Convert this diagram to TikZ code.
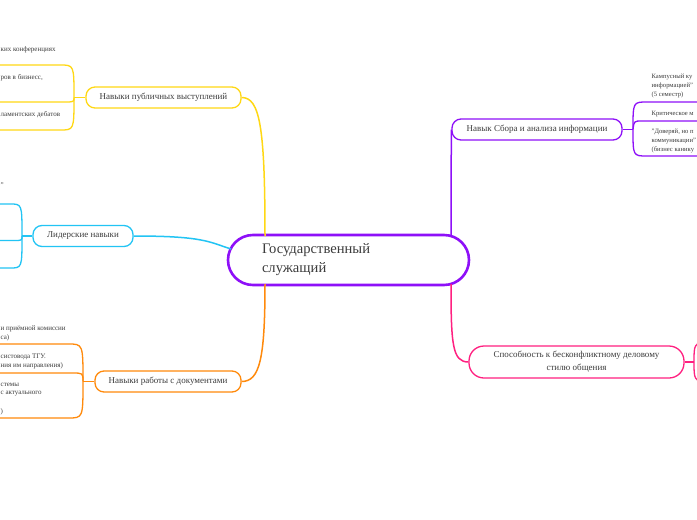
\documentclass[tikz,border=0pt]{standalone}
\usepackage{fontspec}
\setmainfont{Liberation Serif}
\usepackage{tikz}
\usetikzlibrary{positioning}
\usepackage{xcolor}
\definecolor{pubcol}{HTML}{FFD814}
\definecolor{leadcol}{HTML}{22C4F4}
\definecolor{gscol}{HTML}{8E10F8}
\definecolor{doccol}{HTML}{FF8A0C}
\definecolor{konfcol}{HTML}{FF2080}
\definecolor{txt}{HTML}{3C3C3C}

\begin{document}
\begin{tikzpicture}[x=1pt,y=-1pt,line width=1.3pt,
  topic/.style={draw,fill=white,rounded corners=9pt,minimum height=21pt,inner sep=2pt,font=\fontsize{9}{13}\selectfont,text=txt},
  sub/.style={anchor=west,inner sep=0pt,font=\fontsize{7}{8}\selectfont,text=txt},
  subr/.style={sub,font=\fontsize{6.6}{8}\selectfont}]
\clip (0,0) rectangle (697,520);
\fill[white] (0,0) rectangle (697,520);

\node[draw=gscol,line width=2.6pt,fill=white,rounded corners=25pt,minimum width=241pt,minimum height=50pt,text width=173pt,inner xsep=34pt,align=left,text=txt,font=\fontsize{14.6}{19}\selectfont] (gs) at (348.5,260) {Государственный\\служащий};
\coordinate (gsY) at (265,236);
\coordinate (gsC) at (231,249);
\coordinate (gsO) at (265,284);
\coordinate (gsP) at (451,236);
\coordinate (gsK) at (451,284);

\node[topic,draw=pubcol,minimum width=155pt] (pub) at (163.5,97.5) {Навыки публичных выступлений};
\node[topic,draw=leadcol,minimum width=100pt] (lead) at (83,236) {Лидерские навыки};
\node[topic,draw=doccol,minimum width=146pt] (docs) at (168,381.5) {Навыки работы с документами};
\node[topic,draw=gscol,minimum width=170pt] (sbor) at (537,129.5) {Навык Сбора и анализа информации};
\node[topic,draw=konfcol,minimum width=215pt,minimum height=32pt,rounded corners=15pt,align=center] (konf) at (576.5,362) {Способность к бесконфликтному деловому\\стилю общения};

\draw[pubcol,line width=1.5pt] (pub.east) .. controls +(18,0) and +(0,-110) .. (gsY);
\draw[leadcol,line width=1.5pt] (lead.east) .. controls +(70,0) and +(-22,-7) .. (gsC);
\draw[doccol,line width=1.5pt] (docs.east) .. controls +(18,0) and +(0,75) .. (gsO);
\draw[gscol,line width=1.5pt] (gsP) .. controls +(0,-60) and +(0,20) .. (sbor.west);
\draw[konfcol,line width=1.5pt] (gsK) .. controls +(0,60) and +(-16,0) .. (konf.west);

\coordinate (jPub) at (74,97.5);
\draw[pubcol] (pub.west) -- (jPub);
\draw[pubcol] (jPub) .. controls (74,65) .. (60,65) -- (0,65);
\draw[pubcol] (jPub) .. controls (74,102) .. (64,102) -- (0,102);
\draw[pubcol] (jPub) .. controls (74,130) .. (60,130) -- (0,130);
\node[sub] (pub1) at (0,50) {ких конференциях};
\node[sub] (pub2) at (0,78) {ров в бизнесс,};
\node[sub] (pub3) at (0,115) {ламентских дебатов};

\coordinate (jLead) at (22,236);
\draw[leadcol] (lead.west) -- (jLead);
\draw[leadcol] (jLead) .. controls (22,204) .. (10,204) -- (0,204);
\draw[leadcol] (jLead) .. controls (22,240.5) .. (14,240.5) -- (0,240.5);
\draw[leadcol] (jLead) .. controls (22,268) .. (10,268) -- (0,268);
\node[sub] (lead1) at (0,185) {"};

\coordinate (jDocs) at (83,381.5);
\draw[doccol] (docs.west) -- (jDocs);
\draw[doccol] (jDocs) .. controls (83,344) .. (68,344) -- (0,344);
\draw[doccol] (jDocs) .. controls (83,373) .. (72,373) -- (0,373);
\draw[doccol] (jDocs) .. controls (83,418) .. (68,418) -- (0,418);
\node[sub] (docs1) at (0,329) {и приёмной комиссии};
\node[sub] (docs2) at (0,338) {са)};
\node[sub] (docs3) at (0,357) {систовода ТГУ.};
\node[sub] (docs4) at (0,366) {ния им направления)};
\node[sub] (docs5) at (0,385) {стемы};
\node[sub] (docs6) at (0,394) {с актуального};
\node[sub] (docs7) at (0,412) {)};

\coordinate (jSbor) at (633,129.5);
\draw[gscol] (sbor.east) -- (jSbor);
\draw[gscol] (jSbor) .. controls (633,102) .. (647,102) -- (697,102);
\draw[gscol] (jSbor) .. controls (634,121) .. (642,121) -- (697,121);
\draw[gscol] (jSbor) .. controls (633,156) .. (647,156) -- (697,156);
\node[subr] (sbor1) at (651,77) {Кампусный ку};
\node[subr] (sbor2) at (651,86) {информацией"};
\node[subr] (sbor3) at (651,95) {(5 семестр)};
\node[subr] (sbor4) at (651,114) {Критическое м};
\node[subr] (sbor5) at (651,132) {"Доверяй, но п};
\node[subr] (sbor6) at (651,141) {коммуникации"};
\node[subr] (sbor7) at (651,150) {(бизнес канику};

\coordinate (jKonf) at (694,362);
\draw[konfcol] (konf.east) -- (jKonf);
\draw[konfcol] (jKonf) .. controls (694,344) .. (708,340);
\draw[konfcol] (jKonf) .. controls (694,380) .. (708,384);
\end{tikzpicture}
\end{document}
